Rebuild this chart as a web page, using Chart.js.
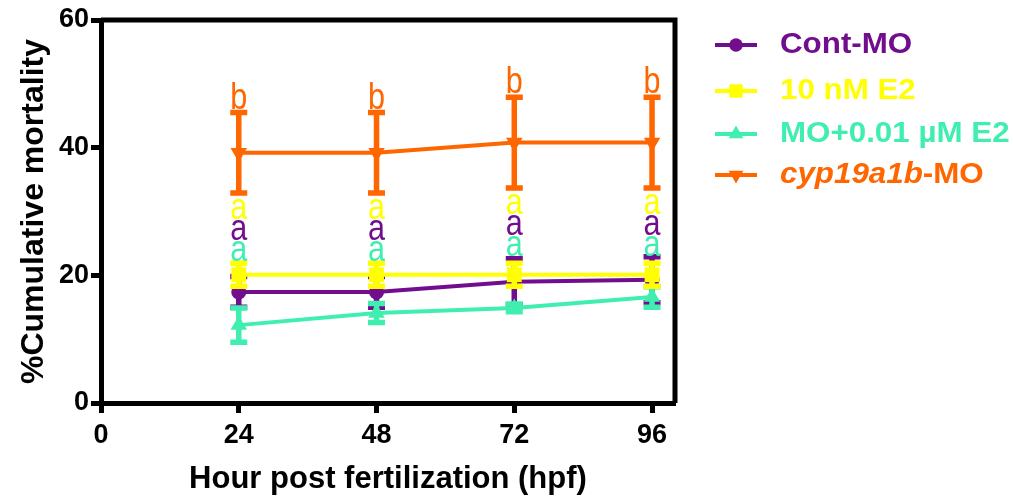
<!DOCTYPE html>
<html>
<head>
<meta charset="utf-8">
<script src="https://cdn.jsdelivr.net/npm/chart.js@4/dist/chart.umd.min.js"></script>
<style>
html, body { margin: 0; padding: 0; background: #fff; }
</style>
</head>
<body>
<canvas id="mortalityChart" width="1013" height="497"></canvas>
<script>
// hours post fertilization
var hours = [24, 48, 72, 96];
var xTicks = [0, 24, 48, 72, 96];
var yTicks = [0, 20, 40, 60];

var seriesNames = ["Cont-MO", "10 nM E2", "MO+0.01 \u00b5M E2", "cyp19a1b-MO"];
var italicPart = ["", "", "", "cyp19a1b"];

// mean % cumulative mortality and error (SEM)
var contMO = [17.4, 17.4, 19.0, 19.3];
var contMOErr = [2.4, 2.4, 3.6, 3.6];
var e2 = [20.1, 20.1, 20.1, 20.1];
var e2Err = [1.8, 1.8, 1.8, 1.8];
var moE2 = [12.2, 14.1, 14.9, 16.6];
var moE2Err = [2.7, 1.5, 0.6, 1.6];
var cypMO = [39.2, 39.2, 40.8, 40.8];
var cypMOErr = [6.3, 6.3, 7.1, 7.1];

// significance letters
var contLetters = ["a", "a", "a", "a"];
var e2Letters = ["a", "a", "a", "a"];
var moE2Letters = ["a", "a", "a", "a"];
var cypLetters = ["b", "b", "b", "b"];

var colors = ["#720D8E", "#FFFF00", "#40EFB0", "#FF6600"];
var markers = ["circle", "rect", "triangle", "triangle"];
var markerRot = [0, 0, 0, 180];
var markerSize = [7.5, 10.5, 9.5, 9.5];

var means = [contMO, e2, moE2, cypMO];
var errs = [contMOErr, e2Err, moE2Err, cypMOErr];
var letters = [contLetters, e2Letters, moE2Letters, cypLetters];
var letterStack = [1, 0, 2]; // yellow, purple, teal under the orange bar
var legendRows = [45, 91, 134, 175];

var FONT = "'Liberation Sans', Arial, sans-serif";

function drawMarker(ctx, style, x, y, r, rot) {
    ctx.beginPath();
    if (style === "circle") {
        ctx.arc(x, y, r, 0, Math.PI * 2);
    } else if (style === "rect") {
        var s = r * Math.SQRT1_2;
        ctx.rect(x - s, y - s, 2 * s, 2 * s);
    } else {
        var d = rot ? -1 : 1;
        ctx.moveTo(x, y - d * r);
        ctx.lineTo(x - r * 0.866, y + d * r * 0.5);
        ctx.lineTo(x + r * 0.866, y + d * r * 0.5);
        ctx.closePath();
    }
    ctx.fill();
}

// text squeezed or stretched horizontally, like the original export
function scaledText(ctx, text, x, y, sx) {
    ctx.save();
    ctx.translate(x, y);
    ctx.scale(sx, 1);
    ctx.fillText(text, 0, 0);
    ctx.restore();
    return ctx.measureText(text).width * sx;
}

var errorBars = {
    id: "errorBars",
    beforeDatasetDraw: function (chart, args) {
        var i = args.index;
        var ctx = chart.ctx, xs = chart.scales.x, ys = chart.scales.y;
        ctx.save();
        ctx.strokeStyle = colors[i];
        ctx.lineWidth = 5.5;
        hours.forEach(function (h, j) {
            var px = xs.getPixelForValue(h);
            var top = ys.getPixelForValue(means[i][j] + errs[i][j]);
            var bot = ys.getPixelForValue(means[i][j] - errs[i][j]);
            ctx.beginPath();
            ctx.moveTo(px, top); ctx.lineTo(px, bot);
            ctx.moveTo(px - 8.5, top); ctx.lineTo(px + 8.5, top);
            ctx.moveTo(px - 8.5, bot); ctx.lineTo(px + 8.5, bot);
            ctx.stroke();
        });
        ctx.restore();
    }
};

var sigLetters = {
    id: "sigLetters",
    afterDatasetsDraw: function (chart) {
        var ctx = chart.ctx, xs = chart.scales.x, ys = chart.scales.y;
        ctx.save();
        ctx.font = "36px " + FONT;
        ctx.textAlign = "center";
        ctx.textBaseline = "alphabetic";
        hours.forEach(function (h, j) {
            var px = xs.getPixelForValue(h);
            var upper = ys.getPixelForValue(cypMO[j] + cypMOErr[j]);
            var lower = ys.getPixelForValue(cypMO[j] - cypMOErr[j]);
            ctx.fillStyle = colors[3];
            scaledText(ctx, letters[3][j], px, upper - 4, 0.85);
            letterStack.forEach(function (s, k) {
                ctx.fillStyle = colors[s];
                scaledText(ctx, letters[s][j], px, lower + 26 + 21 * k, 0.85);
            });
        });
        ctx.restore();
    }
};

var frameAndLegend = {
    id: "frameAndLegend",
    afterDraw: function (chart) {
        var ctx = chart.ctx, a = chart.chartArea;
        ctx.save();
        // top and right frame
        ctx.strokeStyle = "#000";
        ctx.lineWidth = 5;
        ctx.beginPath();
        ctx.moveTo(a.left, a.top);
        ctx.lineTo(a.right, a.top);
        ctx.lineTo(a.right, a.bottom);
        ctx.stroke();

        // legend
        ctx.textBaseline = "middle";
        ctx.textAlign = "left";
        seriesNames.forEach(function (name, i) {
            var y = legendRows[i];
            ctx.strokeStyle = colors[i];
            ctx.fillStyle = colors[i];
            ctx.lineWidth = 4;
            ctx.beginPath();
            ctx.moveTo(715, y); ctx.lineTo(757, y);
            ctx.stroke();
            drawMarker(ctx, markers[i], 736, y, markerSize[i] * 0.9, markerRot[i]);
            var x = 780;
            if (italicPart[i]) {
                ctx.font = "italic bold 29px " + FONT;
                x += scaledText(ctx, italicPart[i], x, y, 1.08);
            }
            ctx.font = "bold 29px " + FONT;
            scaledText(ctx, name.slice(italicPart[i].length), x, y, 1.08);
        });
        ctx.restore();
    }
};

function makeSeries(i) {
    return {
        label: seriesNames[i],
        data: hours.map(function (h, j) { return { x: h, y: means[i][j] }; }),
        borderColor: colors[i],
        backgroundColor: colors[i],
        borderWidth: 4,
        pointStyle: markers[i],
        pointRotation: markerRot[i],
        pointRadius: markerSize[i],
        pointBorderWidth: 0,
        tension: 0,
        order: [3, 1, 2, 0][i]
    };
}

var ctx = document.getElementById("mortalityChart").getContext("2d");
var myChart = new Chart(ctx, {
    type: "line",
    data: {
        datasets: [makeSeries(0), makeSeries(1), makeSeries(2), makeSeries(3)]
    },
    plugins: [errorBars, sigLetters, frameAndLegend],
    options: {
        responsive: false,
        animation: false,
        layout: { padding: { top: 20, right: 338, left: 0, bottom: 0 } },
        plugins: {
            legend: { display: false },
            tooltip: { enabled: false }
        },
        scales: {
            x: {
                type: "linear",
                min: 0,
                max: 100,
                afterFit: function (s) { s.height = 94; },
                afterBuildTicks: function (s) { s.ticks = xTicks.map(function (v) { return { value: v }; }); },
                ticks: { color: "#000", font: { family: FONT, size: 27, weight: "bold" }, padding: 6 },
                grid: { drawOnChartArea: false, tickLength: 10, tickWidth: 5, tickColor: "#000" },
                border: { color: "#000", width: 5 },
                title: {
                    display: true,
                    text: "Hour post fertilization (hpf)",
                    color: "#000",
                    font: { family: FONT, size: 31, weight: "bold" },
                    padding: { top: 0, bottom: -1 }
                }
            },
            y: {
                min: 0,
                max: 60,
                afterFit: function (s) { s.width = 101; },
                afterBuildTicks: function (s) { s.ticks = yTicks.map(function (v) { return { value: v }; }); },
                ticks: { color: "#000", font: { family: FONT, size: 27, weight: "bold" }, padding: 2 },
                grid: { drawOnChartArea: false, tickLength: 10, tickWidth: 5, tickColor: "#000" },
                border: { color: "#000", width: 5 },
                title: {
                    display: true,
                    text: "%Cumulative mortality",
                    color: "#000",
                    font: { family: FONT, size: 32, weight: "bold" },
                    padding: { top: 15, bottom: 0 }
                }
            }
        }
    }
});
</script>
</body>
</html>
